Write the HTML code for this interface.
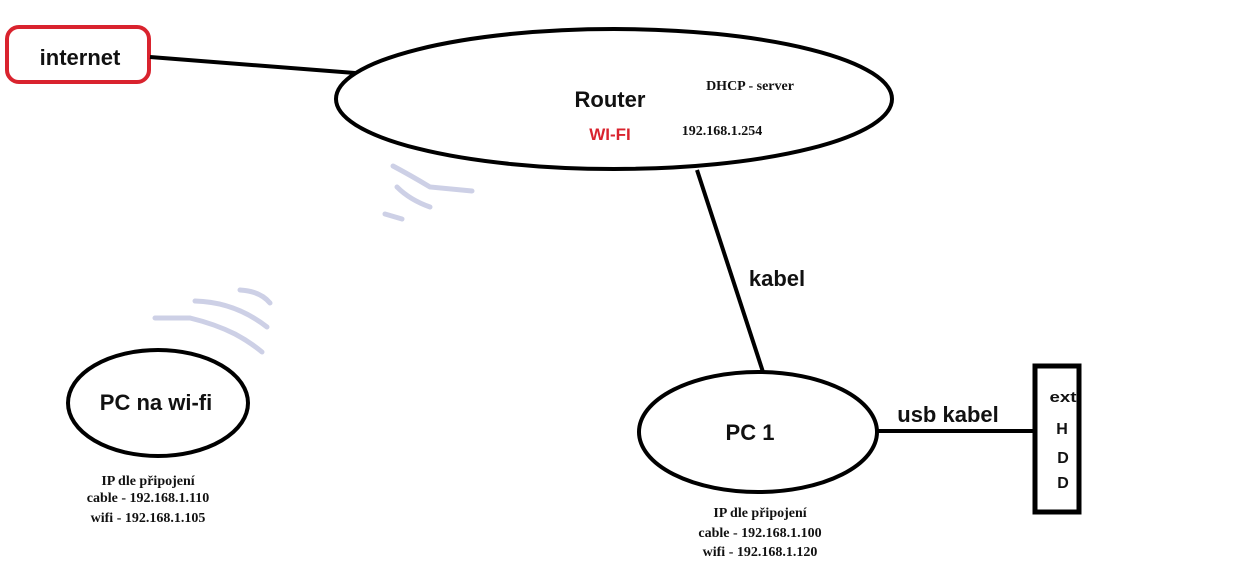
<!DOCTYPE html>
<html><head><meta charset="utf-8"><style>
html,body{margin:0;padding:0;background:#fff;}
svg{display:block;}
.b{font-family:"Liberation Sans",sans-serif;font-weight:bold;fill:#111;}
.s{font-family:"Liberation Serif",serif;font-size:14px;font-weight:bold;fill:#111;text-anchor:middle;}
</style></head><body>
<svg width="1258" height="585" viewBox="0 0 1258 585" xmlns="http://www.w3.org/2000/svg">
<rect width="1258" height="585" fill="#fff"/>
<g fill="none" stroke="#cdd0e6" stroke-width="5" stroke-linecap="round">
<path d="M393,166 Q410,175 430,187 L472,191"/>
<path d="M397,187 Q410,200 430,207"/>
<path d="M385,214 L402,219"/>
<path d="M155,318 L190,318 Q215,324 235,334 Q250,342 262,352"/>
<path d="M195,301 Q235,302 267,327"/>
<path d="M240,290 Q260,291 270,303"/>
</g>
<rect x="7" y="27" width="142" height="55" rx="12" fill="none" stroke="#d9232e" stroke-width="4"/>
<text class="b" x="80" y="65" font-size="22" text-anchor="middle">internet</text>
<line x1="150" y1="57" x2="355" y2="73" stroke="#000" stroke-width="4"/>
<ellipse cx="614" cy="99" rx="278" ry="70" fill="none" stroke="#000" stroke-width="4"/>
<text class="b" x="610" y="107" font-size="22" text-anchor="middle">Router</text>
<text class="b" x="610" y="140" font-size="17" text-anchor="middle" style="fill:#d9232e">WI-FI</text>
<text class="s" x="750" y="90">DHCP - server</text>
<text class="s" x="722" y="135">192.168.1.254</text>
<line x1="697" y1="170" x2="763" y2="372" stroke="#000" stroke-width="4"/>
<text class="b" x="777" y="286" font-size="22" text-anchor="middle">kabel</text>
<ellipse cx="758" cy="432" rx="119" ry="60" fill="none" stroke="#000" stroke-width="4"/>
<text class="b" x="750" y="440" font-size="22" text-anchor="middle">PC 1</text>
<line x1="878" y1="431" x2="1035" y2="431" stroke="#000" stroke-width="4"/>
<text class="b" x="948" y="422" font-size="22" text-anchor="middle">usb kabel</text>
<rect x="1035" y="366" width="44" height="146" fill="none" stroke="#000" stroke-width="5"/>
<text class="b" x="1063" y="402" font-size="15" text-anchor="middle" textLength="27" lengthAdjust="spacingAndGlyphs">ext</text>
<text class="b" x="1062" y="434" font-size="16" text-anchor="middle">H</text>
<text class="b" x="1063" y="463" font-size="16" text-anchor="middle">D</text>
<text class="b" x="1063" y="488" font-size="16" text-anchor="middle">D</text>
<ellipse cx="158" cy="403" rx="90" ry="53" fill="none" stroke="#000" stroke-width="4"/>
<text class="b" x="156" y="410" font-size="22" text-anchor="middle">PC na wi-fi</text>
<text class="s" x="148" y="485">IP dle připojení</text>
<text class="s" x="148" y="502">cable - 192.168.1.110</text>
<text class="s" x="148" y="522">wifi - 192.168.1.105</text>
<text class="s" x="760" y="517">IP dle připojení</text>
<text class="s" x="760" y="537">cable - 192.168.1.100</text>
<text class="s" x="760" y="556">wifi - 192.168.1.120</text>
</svg>
</body></html>
